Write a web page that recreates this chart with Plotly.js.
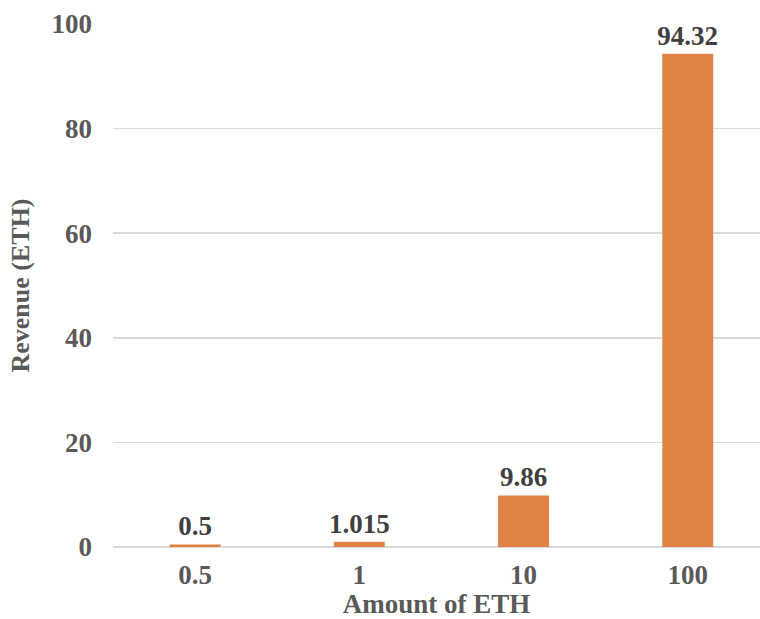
<!DOCTYPE html>
<html>
<head>
<meta charset="utf-8">
<script src="https://cdn.plot.ly/plotly-3.0.1.min.js"></script>
<style>html,body{margin:0;padding:0;background:#fff;}#chart{width:760px;height:619px;}</style>
</head>
<body>
<div id="chart"></div>
<script>
const categories = ["0.5", "1", "10", "100"];
const revenue = [0.5, 1.015, 9.86, 94.32];
const valueLabels = ["0.5", "1.015", "9.86", "94.32"];
const yTicks = [0, 20, 40, 60, 80, 100];

const trace = {
  type: "bar",
  x: categories,
  y: revenue,
  text: valueLabels,
  textposition: "outside",
  cliponaxis: false,
  constraintext: "none",
  textfont: {family: "Liberation Serif", size: 27, color: "#404040", weight: "bold"},
  marker: {color: "#DF8344", line: {width: 0}},
  width: 0.31,
  hoverinfo: "none"
};

const layout = {
  width: 760, height: 619,
  margin: {l: 113, r: 0, t: 24, b: 72},
  paper_bgcolor: "#fff", plot_bgcolor: "#fff",
  showlegend: false,
  font: {family: "Liberation Serif", color: "#595959"},
  xaxis: {
    type: "category",
    range: [-0.5, 3.44],
    showgrid: false, zeroline: false, showline: false,
    ticks: "",
    ticklabelstandoff: 9,
    tickfont: {family: "Liberation Serif", size: 27, color: "#595959", weight: "bold"},
    title: {text: "Amount of ETH", standoff: 2,
      font: {family: "Liberation Serif", size: 27, color: "#595959", weight: "bold"}}
  },
  yaxis: {
    range: [0, 100],
    tickvals: yTicks,
    ticktext: yTicks.map(String),
    showgrid: true, gridcolor: "#D9D9D9", gridwidth: 1.5,
    zeroline: true, zerolinecolor: "#D9D9D9", zerolinewidth: 1.5,
    showline: false, ticks: "",
    ticklabelstandoff: 20,
    tickfont: {family: "Liberation Serif", size: 27, color: "#595959", weight: "bold"},
    title: {text: "Revenue (ETH)", standoff: 14,
      font: {family: "Liberation Serif", size: 26, color: "#595959", weight: "bold"}}
  }
};

Plotly.newPlot("chart", [trace], layout, {displayModeBar: false, staticPlot: true});
</script>
</body>
</html>
